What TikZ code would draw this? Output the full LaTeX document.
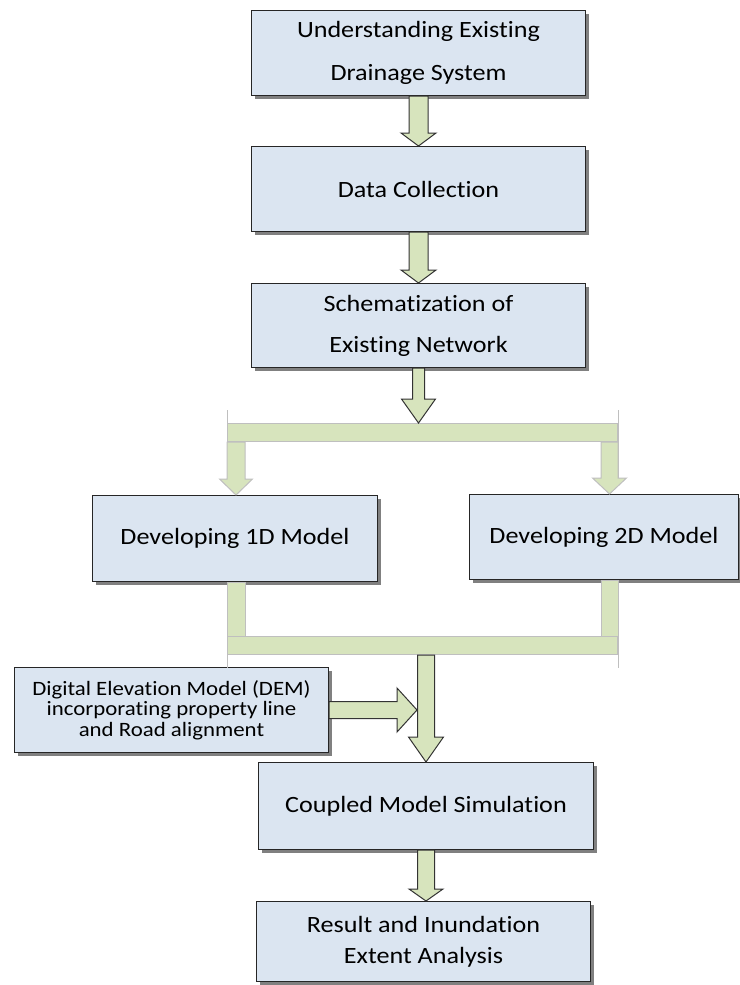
\documentclass[tikz,border=0pt]{standalone}
\usepackage{fontspec}
\setmainfont{Carlito}[FakeStretch=1.12, Ligatures=NoCommon]
\usetikzlibrary{calc,shadows}

\definecolor{boxblue}{RGB}{219,229,241}
\definecolor{arrowgreen}{RGB}{215,228,189}
\definecolor{edgegrey}{RGB}{191,191,191}

\tikzset{
  stepbox/.style={rectangle, anchor=north west, draw=black!85, line width=0.75pt,
    fill=boxblue, align=center, inner sep=0pt,
    font=\fontsize{17.5}{21}\selectfont,
    drop shadow={shadow xshift=2.25pt, shadow yshift=-2.25pt, fill=black!50, opacity=1}},
  barbox/.style={rectangle, anchor=north west, inner sep=0pt, fill=arrowgreen,
    draw=edgegrey, line width=0.75pt},
  blockarrow/.style={fill=arrowgreen, draw=black!80, line width=0.75pt, line join=miter},
  edgeline/.style={draw=edgegrey, line width=0.75pt}
}

% block arrows: [outline]{from}{to}{half shaft}{half head}{head length}, sizes in px
\newcommand{\downblock}[6][black!80]{%
  \draw[blockarrow, draw=#1] let \p1=#2, \p2=#3 in
    ({\x1-#4*0.75pt},\y1) -- ({\x1-#4*0.75pt},{\y2+#6*0.75pt})
    -- ({\x1-#5*0.75pt},{\y2+#6*0.75pt}) -- (\x1,\y2)
    -- ({\x1+#5*0.75pt},{\y2+#6*0.75pt}) -- ({\x1+#4*0.75pt},{\y2+#6*0.75pt})
    -- ({\x1+#4*0.75pt},\y1) -- cycle;}
\newcommand{\rightblock}[6][black!80]{%
  \draw[blockarrow, draw=#1] let \p1=#2, \p2=#3 in
    (\x1,{\y1+#4*0.75pt}) -- ({\x2-#6*0.75pt},{\y1+#4*0.75pt})
    -- ({\x2-#6*0.75pt},{\y1+#5*0.75pt}) -- (\x2,\y1)
    -- ({\x2-#6*0.75pt},{\y1-#5*0.75pt}) -- ({\x2-#6*0.75pt},{\y1-#4*0.75pt})
    -- (\x1,{\y1-#4*0.75pt}) -- cycle;}

\begin{document}
\begin{tikzpicture}[x=0.75pt, y=-0.75pt]
  \useasboundingbox (0,0) rectangle (739,985);

  % split and join bars
  \node[barbox, minimum width=292.5pt, minimum height=13.5pt] (fork) at (227,423) {};
  \node[barbox, minimum width=292.5pt, minimum height=13.5pt] (join) at (227,636) {};

  \node[stepbox, minimum width=250.5pt, minimum height=63.75pt,
        font=\fontsize{17.5}{32.25}\selectfont] (und) at (251,10)
        {Understanding Existing\\Drainage System};
  \node[stepbox, minimum width=250.5pt, minimum height=63.75pt] (data) at (251,146)
        {Data Collection};
  \node[stepbox, minimum width=250.5pt, minimum height=63pt,
        font=\fontsize{17.5}{30.75}\selectfont] (schem) at (251,283)
        {Schematization of\\Existing Network};
  \node[stepbox, minimum width=213.75pt, minimum height=64.5pt] (oned) at (92,495)
        {Developing 1D Model};
  \node[stepbox, minimum width=201.75pt, minimum height=63.75pt] (twod) at (469,494)
        {Developing 2D Model};
  \node[stepbox, minimum width=235.5pt, minimum height=63.75pt,
        font=\fontsize{15.3}{15.5}\selectfont] (dem) at (14,667)
        {Digital Elevation Model (DEM)\\incorporating property line\\and Road alignment};
  \node[stepbox, minimum width=251.25pt, minimum height=65.25pt] (coupled) at (258,762)
        {Coupled Model Simulation};
  \node[stepbox, minimum width=250.5pt, minimum height=60pt,
        font=\fontsize{17.5}{23.25}\selectfont] (result) at (256,901)
        {Result and Inundation\\Extent Analysis};

  \coordinate (forkl) at ($(fork.south west)+(9,0)$);
  \coordinate (forkr) at ($(fork.south east)+(-8.5,0)$);
  \coordinate (joinl) at ($(join.north west)+(18,0)$);
  \coordinate (joinr) at ($(join.north east)+(-17,0)$);
  \coordinate (jc) at (coupled.north |- join.south);
  \coordinate (demtip) at ($(coupled.north |- dem.east)+(-9,0)$);

  \draw[edgeline] ($(fork.north west)+(0,-13)$) -- ($(fork.south west)+(0,36)$);
  \draw[edgeline] ($(fork.north east)+(0,-13)$) -- ($(fork.south east)+(0,36)$);
  \downblock[edgegrey]{(forkl)}{(forkl |- oned.north)}{9}{16.5}{16}
  \downblock[edgegrey]{(forkr)}{(forkr |- twod.north)}{8.5}{17}{16}

  \draw[barbox] (join.north west |- oned.south) rectangle (joinl);
  \draw[barbox] (joinr |- twod.south) rectangle (join.north east);
  \draw[edgeline] (join.north west |- oned.south) -- ($(join.south west)+(0,13)$);
  \draw[edgeline] (join.north east |- twod.south) -- ($(join.south east)+(0,13)$);

  \downblock{(und.south)}{(data.north)}{9.5}{17.5}{13}
  \downblock{(data.south)}{(schem.north)}{9.5}{17.5}{13}
  \downblock{(schem.south)}{(schem.south |- fork.north)}{6}{17}{24}
  \downblock{(jc)}{(coupled.north)}{8.5}{17.5}{25}
  \rightblock{(dem.east)}{(demtip)}{8.5}{22}{20}
  \downblock{(coupled.south)}{(coupled.south |- result.north)}{8.5}{17}{12}
\end{tikzpicture}
\end{document}
